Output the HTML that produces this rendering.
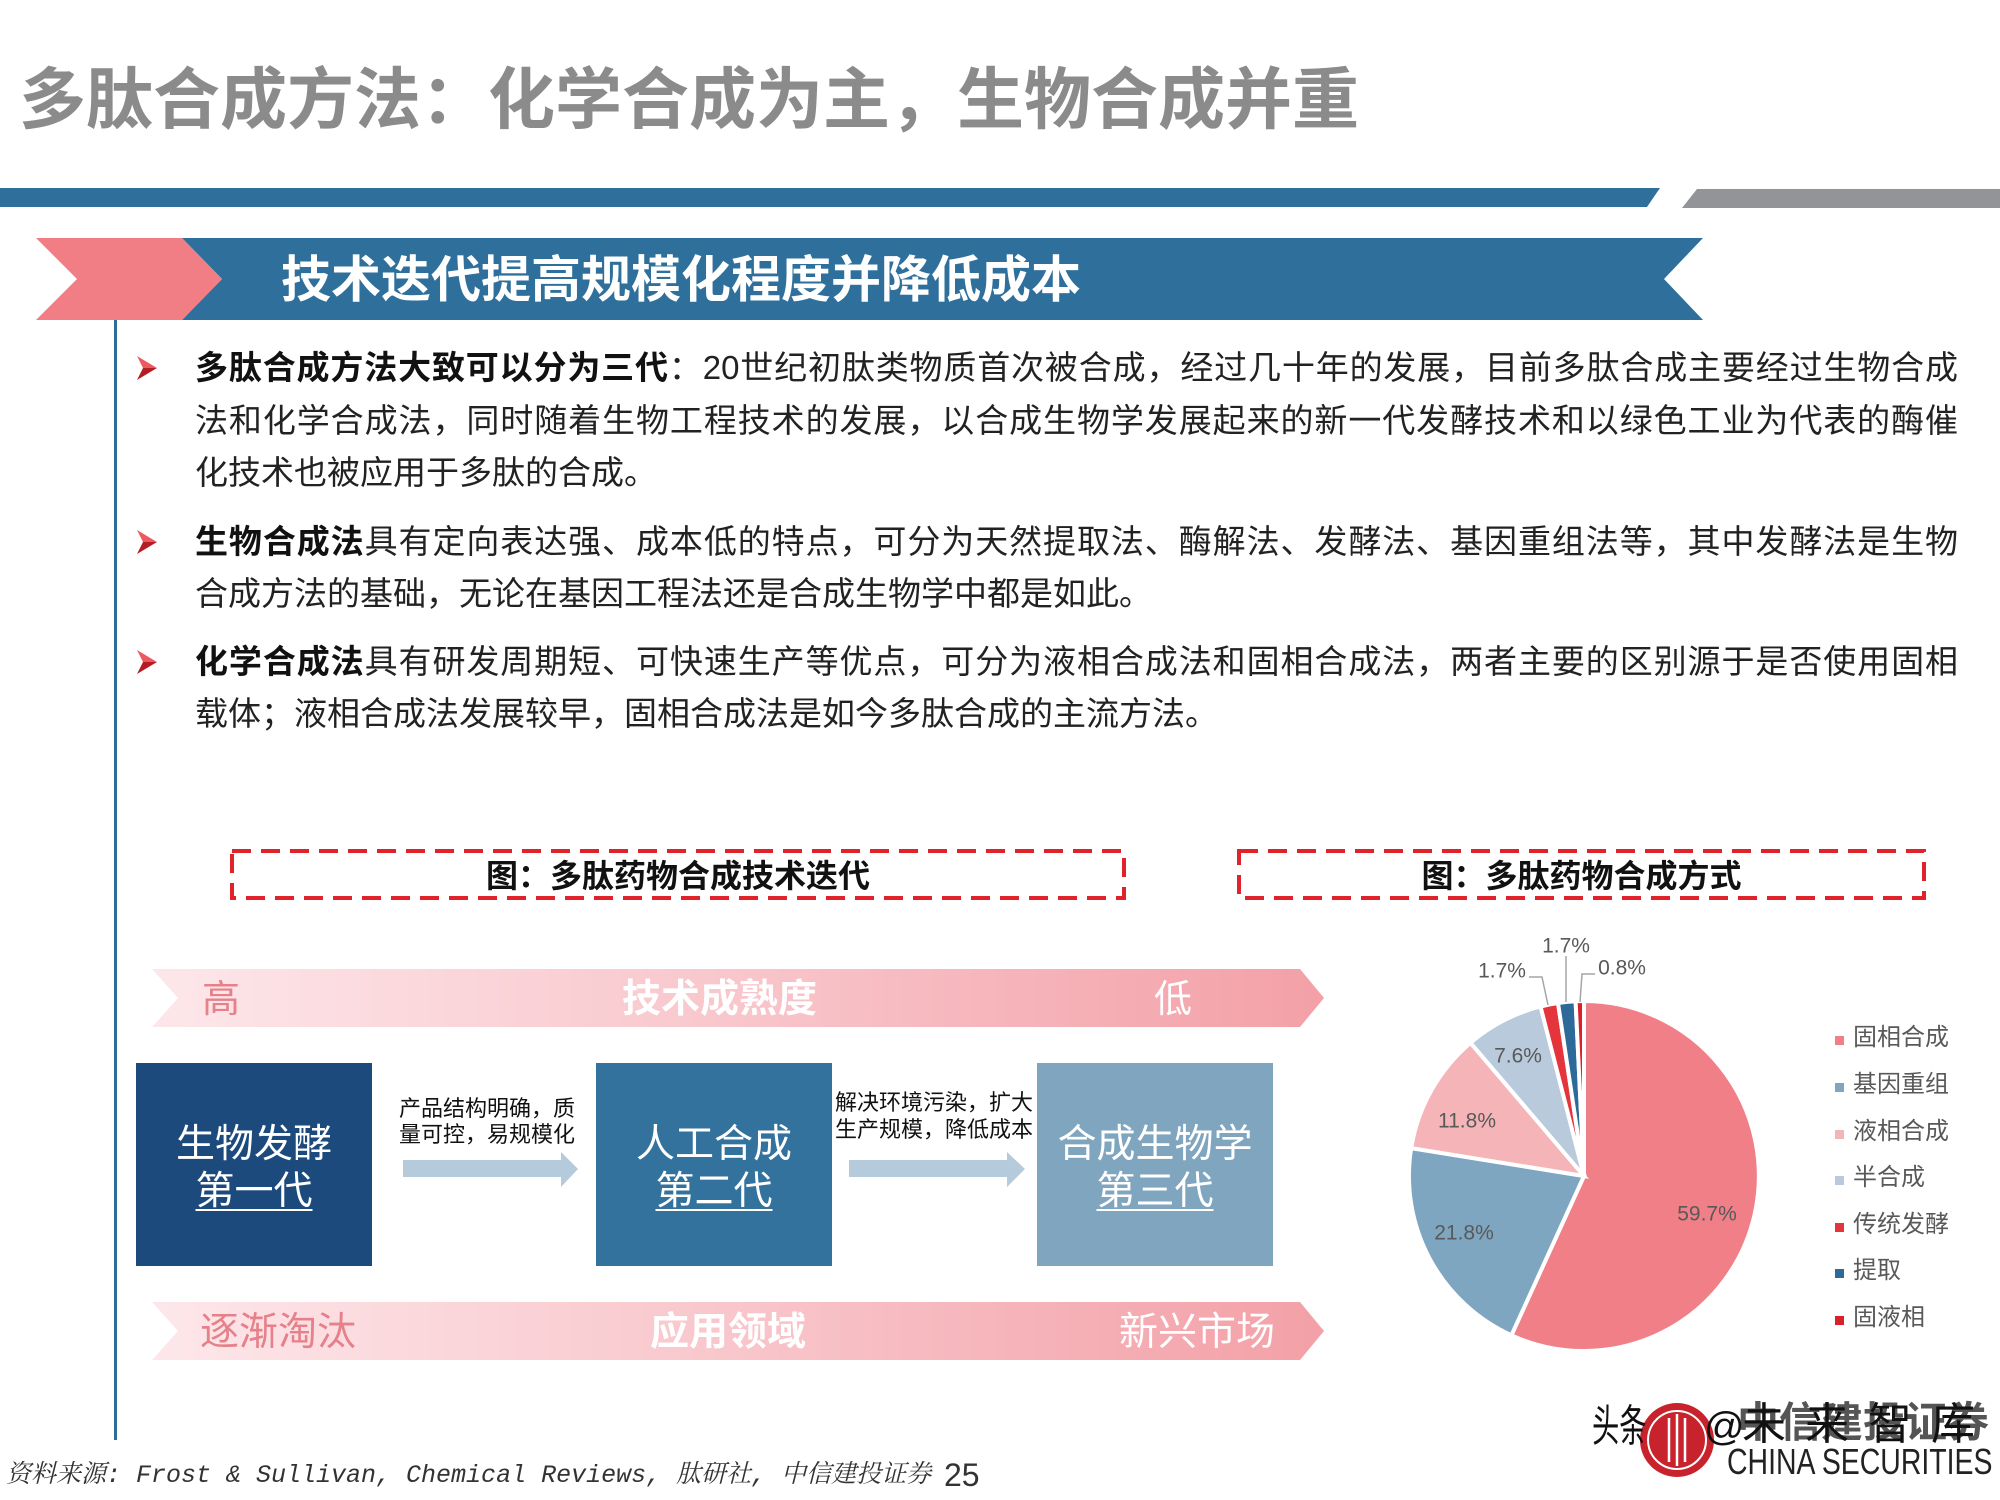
<!DOCTYPE html>
<html><head><meta charset="utf-8">
<style>
*{margin:0;padding:0;box-sizing:border-box}
html,body{width:2000px;height:1500px;overflow:hidden;background:#fff}
body{position:relative;font-family:"Liberation Sans","Noto Sans CJK SC",sans-serif}
.a{position:absolute;white-space:nowrap}
.ln{position:absolute;left:195px;width:1763px;height:44px;line-height:44px;font-size:33px;color:#222;text-align:justify;text-align-last:justify}
.ll{position:absolute;left:195px;height:44px;line-height:44px;font-size:33px;color:#222;white-space:nowrap}
.ln b,.ll b{color:#111;font-weight:700}
.bx{position:absolute;top:1063px;height:203px;width:236px;color:#fff;font-size:39px;line-height:46px;text-align:center}
.bx div{position:absolute;left:0;width:100%}
.bx u{text-decoration-thickness:2px;text-underline-offset:5px}
.sm{position:absolute;font-size:22px;line-height:26px;color:#111;white-space:nowrap}
.lg{position:absolute;left:1853px;font-size:24px;line-height:30px;color:#595959;white-space:nowrap}
.band{position:absolute;font-size:38px;line-height:44px;white-space:nowrap}
</style></head>
<body>
<svg width="2000" height="1500" style="position:absolute;left:0;top:0">
  <defs>
    <linearGradient id="bg" x1="152" y1="0" x2="1324" y2="0" gradientUnits="userSpaceOnUse">
      <stop offset="0" stop-color="#fde7ea"/>
      <stop offset="0.5" stop-color="#f8c6cb"/>
      <stop offset="1" stop-color="#f3a0a7"/>
    </linearGradient>
  </defs>
  <polygon points="0,188 1660,188 1647,207 0,207" fill="#2f6f9b"/>
  <polygon points="1697,189 2000,189 2000,208 1682,208" fill="#929497"/>
  <polygon points="182,238 1703,238 1664,279 1703,320 182,320 222,279" fill="#2f6f9b"/>
  <polygon points="36,238 182,238 222,279 182,320 36,320 77,279" fill="#f07e84"/>
  <rect x="114" y="320" width="3" height="1120" fill="#2f6d99"/>
  <g>
    <polygon points="137,356 157,368 143,368" fill="#ec5a60"/>
    <polygon points="143,368 157,368 137,380" fill="#b51d24"/>
  </g>
  <g transform="translate(0,174)">
    <polygon points="137,356 157,368 143,368" fill="#ec5a60"/>
    <polygon points="143,368 157,368 137,380" fill="#b51d24"/>
  </g>
  <g transform="translate(0,294)">
    <polygon points="137,356 157,368 143,368" fill="#ec5a60"/>
    <polygon points="143,368 157,368 137,380" fill="#b51d24"/>
  </g>
  <rect x="232" y="851" width="892" height="47" fill="none" stroke="#e0222b" stroke-width="4" stroke-dasharray="19 10"/>
  <rect x="1239" y="851" width="685" height="47" fill="none" stroke="#e0222b" stroke-width="4" stroke-dasharray="19 10"/>
  <polygon points="152,969 1300,969 1324,998 1300,1027 152,1027 178,998" fill="url(#bg)"/>
  <polygon points="152,1302 1300,1302 1324,1331 1300,1360 152,1360 178,1331" fill="url(#bg)"/>
  <rect x="136" y="1063" width="236" height="203" fill="#1c4a7c"/>
  <rect x="596" y="1063" width="236" height="203" fill="#34729e"/>
  <rect x="1037" y="1063" width="236" height="203" fill="#80a6bf"/>
  <polygon points="403,1160 561,1160 561,1152 578,1169 561,1187 561,1177 403,1177" fill="#b5cadb"/>
  <polygon points="849,1160 1007,1160 1007,1152 1025,1169 1007,1187 1007,1177 849,1177" fill="#b5cadb"/>
  <g stroke="#fff" stroke-width="4" stroke-linejoin="miter">
    <path d="M1584,1176 L1584,1001 A175,175 0 1 1 1511.4,1335.3 Z" fill="#f07f87"/>
    <path d="M1584,1176 L1511.4,1335.3 A175,175 0 0 1 1411.2,1148.1 Z" fill="#7fa6c0"/>
    <path d="M1584,1176 L1411.2,1148.1 A175,175 0 0 1 1470.5,1042.8 Z" fill="#f5b4b8"/>
    <path d="M1584,1176 L1470.5,1042.8 A175,175 0 0 1 1540.5,1006.5 Z" fill="#b8cadb"/>
    <path d="M1584,1176 L1540.5,1006.5 A175,175 0 0 1 1558,1003 Z" fill="#e3353b"/>
    <path d="M1584,1176 L1558,1003 A175,175 0 0 1 1575.6,1001.2 Z" fill="#2d6a99"/>
    <path d="M1584,1176 L1575.6,1001.2 A175,175 0 0 1 1584,1001 Z" fill="#d9202b"/>
  </g>
  <g stroke="#a6a6a6" stroke-width="1.5" fill="none">
    <polyline points="1529,977 1542,977 1548,1005"/>
    <polyline points="1566,956 1566,1002"/>
    <polyline points="1595,974 1582,974 1580,1002"/>
  </g>
  <g font-family="Liberation Sans, sans-serif" font-size="21" fill="#595959" text-anchor="middle" dominant-baseline="central">
    <text x="1707" y="1214">59.7%</text>
    <text x="1464" y="1233">21.8%</text>
    <text x="1467" y="1121">11.8%</text>
    <text x="1518" y="1056">7.6%</text>
    <text x="1502" y="971">1.7%</text>
    <text x="1566" y="946">1.7%</text>
    <text x="1622" y="968">0.8%</text>
  </g>
  <rect x="1835" y="1036" width="9" height="9" fill="#f07f87"/>
  <rect x="1835" y="1083" width="9" height="9" fill="#7fa6c0"/>
  <rect x="1835" y="1130" width="9" height="9" fill="#f5b4b8"/>
  <rect x="1835" y="1176" width="9" height="9" fill="#b8cadb"/>
  <rect x="1835" y="1223" width="9" height="9" fill="#e3353b"/>
  <rect x="1835" y="1269" width="9" height="9" fill="#2d6a99"/>
  <rect x="1835" y="1316" width="9" height="9" fill="#d9202b"/>
  <circle cx="1677" cy="1440" r="37" fill="#c8232c"/>
  <circle cx="1677" cy="1440" r="29" fill="none" stroke="#fff" stroke-width="2"/>
  <g stroke="#fff" stroke-width="2.5">
    <line x1="1669" y1="1418" x2="1669" y2="1462"/>
    <line x1="1677" y1="1414" x2="1677" y2="1466"/>
    <line x1="1685" y1="1418" x2="1685" y2="1462"/>
  </g>
</svg>

<div class="a" style="left:19px;top:67px;font-size:67px;line-height:67px;font-weight:700;color:#8b8b8b">多肽合成方法：化学合成为主，生物合成并重</div>
<div class="a" style="left:281px;top:255px;font-size:50px;line-height:50px;font-weight:700;color:#fff">技术迭代提高规模化程度并降低成本</div>

<div class="ln" style="top:346px"><b>多肽合成方法大致可以分为三代</b>：20世纪初肽类物质首次被合成，经过几十年的发展，目前多肽合成主要经过生物合成</div>
<div class="ln" style="top:399px">法和化学合成法，同时随着生物工程技术的发展，以合成生物学发展起来的新一代发酵技术和以绿色工业为代表的酶催</div>
<div class="ll" style="top:451px">化技术也被应用于多肽的合成。</div>
<div class="ln" style="top:520px"><b>生物合成法</b>具有定向表达强、成本低的特点，可分为天然提取法、酶解法、发酵法、基因重组法等，其中发酵法是生物</div>
<div class="ll" style="top:572px">合成方法的基础，无论在基因工程法还是合成生物学中都是如此。</div>
<div class="ln" style="top:640px"><b>化学合成法</b>具有研发周期短、可快速生产等优点，可分为液相合成法和固相合成法，两者主要的区别源于是否使用固相</div>
<div class="ll" style="top:692px">载体；液相合成法发展较早，固相合成法是如今多肽合成的主流方法。</div>

<div class="a" style="left:232px;width:892px;top:856px;font-size:32px;line-height:40px;font-weight:700;color:#111;text-align:center">图：多肽药物合成技术迭代</div>
<div class="a" style="left:1239px;width:685px;top:856px;font-size:32px;line-height:40px;font-weight:700;color:#111;text-align:center">图：多肽药物合成方式</div>

<div class="band" style="left:202px;top:978px;color:#e6808a">高</div>
<div class="band" style="left:622px;top:978px;color:#fff;font-weight:700;font-size:39px">技术成熟度</div>
<div class="band" style="left:1154px;top:978px;color:#fff">低</div>
<div class="band" style="left:200px;top:1311px;color:#e6808a;font-size:39px">逐渐淘汰</div>
<div class="band" style="left:650px;top:1311px;color:#fff;font-weight:700;font-size:39px">应用领域</div>
<div class="band" style="left:1119px;top:1311px;color:#fff;font-size:39px">新兴市场</div>

<div class="bx" style="left:136px"><div style="top:59px">生物发酵</div><div style="top:106px"><u>第一代</u></div></div>
<div class="bx" style="left:596px"><div style="top:59px">人工合成</div><div style="top:106px"><u>第二代</u></div></div>
<div class="bx" style="left:1037px"><div style="top:59px">合成生物学</div><div style="top:106px"><u>第三代</u></div></div>

<div class="sm" style="left:399px;top:1096px">产品结构明确，质</div>
<div class="sm" style="left:399px;top:1122px">量可控，易规模化</div>
<div class="sm" style="left:835px;top:1090px">解决环境污染，扩大</div>
<div class="sm" style="left:835px;top:1117px">生产规模，降低成本</div>

<div class="lg" style="top:1023px">固相合成</div>
<div class="lg" style="top:1070px">基因重组</div>
<div class="lg" style="top:1117px">液相合成</div>
<div class="lg" style="top:1163px">半合成</div>
<div class="lg" style="top:1210px">传统发酵</div>
<div class="lg" style="top:1256px">提取</div>
<div class="lg" style="top:1303px">固液相</div>

<div class="a" style="left:6px;top:1461px;font-family:'Liberation Mono','Noto Serif CJK SC',monospace;font-style:italic;font-size:25px;line-height:30px;color:#333">资料来源: Frost &amp; Sullivan, Chemical Reviews, 肽研社, 中信建投证券</div>
<div class="a" style="left:944px;top:1457px;font-size:32px;line-height:36px;color:#333">25</div>

<div class="a" style="left:1737px;top:1399px;font-size:42px;line-height:48px;color:#555;font-weight:700">中信建投证券</div>
<div class="a" style="left:1592px;top:1403px;font-size:44px;line-height:48px;color:#111;transform:scaleX(0.62);transform-origin:left top">头条</div>
<div class="a" style="left:1704px;top:1403px;font-size:40px;line-height:48px;color:#111">@</div>
<div class="a" style="left:1742px;top:1401px;font-size:44px;line-height:48px;color:#111;letter-spacing:19px">未来智库</div>
<div class="a" style="left:1727px;top:1444px;font-size:36px;line-height:36px;color:#222;transform:scaleX(0.79);transform-origin:left top">CHINA SECURITIES</div>
</body></html>
